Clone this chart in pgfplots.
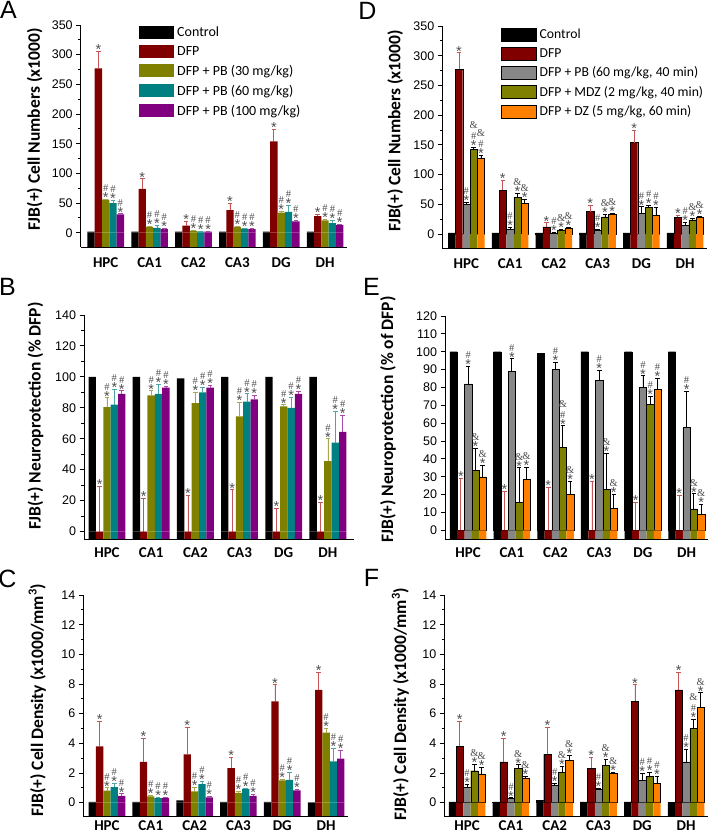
\documentclass[border=0pt]{standalone}
\usepackage{fontspec}
\setmainfont{Carlito}
\newfontfamily\arialf{Liberation Sans}
\newfontfamily\serf{Liberation Serif}
\usepackage{pgfplots}
\pgfplotsset{compat=1.18}
\definecolor{cdfp}{RGB}{128,0,0}
\definecolor{cdfpe}{RGB}{200,85,85}
\definecolor{col}{RGB}{128,128,0}
\definecolor{ctl}{RGB}{0,128,128}
\definecolor{cpu}{RGB}{128,0,128}
\definecolor{cgr}{RGB}{135,135,135}
\definecolor{cor}{RGB}{255,128,0}
\definecolor{ann}{RGB}{80,80,80}
\newcommand\tickf{\arialf\fontsize{12.5}{14}\selectfont}
\newcommand\catf{\bfseries\fontsize{15}{18}\selectfont}
\newcommand\labf{\bfseries\fontsize{17.5}{20}\selectfont}
\newcommand\legf{\fontsize{14}{16}\selectfont}
\newcommand\annf{\fontsize{10}{11}\selectfont\color{ann}}
\protected\def\st{{\arialf\fontsize{14.5}{11}\selectfont\color{ann}*}}
\protected\def\hs{{\serf\fontsize{10.5}{11}\selectfont\color{ann}\#}}
\protected\def\am{{\serf\fontsize{10.5}{11}\selectfont\color{ann}\&}}
\protected\def\sS{\st}
\protected\def\hS{\hs\\\st}
\protected\def\aS{\am\\\st}
\protected\def\ahS{\am\\\hs\\\st}
\pgfplotsset{
 panel/.style={scale only axis, enlargelimits=false, clip=false, axis on top,
   axis x line*=bottom, axis y line*=left, axis line style={-, line width=0.9pt},
   xmin=-0.55, xmax=5.5, xtick={0,...,5}, xticklabels={HPC,CA1,CA2,CA3,DG,DH},
   xtick style={draw=none}, x tick label style={font=\catf},
   ytick style={line width=0.9pt, black}, tick align=outside,
   major tick length=4.5pt, minor tick length=2.7pt,
   y tick label style={font=\tickf}, /pgf/number format/assume math mode=true,
   ylabel style={font=\labf, anchor=center},
   bar width=0.167, ybar=0pt,
   legend image code/.code={\path[##1] (0pt,-6.5pt) rectangle (35pt,6.5pt);},
 },
 bar/.style n args={3}{fill=#1, draw=#2, line width=0.4pt,
   /pgfplots/error bars/y dir=plus, /pgfplots/error bars/y explicit,
   /pgfplots/error bars/error bar style={color=#3, line width=0.8pt},
   /pgfplots/error bars/error mark options={rotate=90, mark size=2.3pt, color=#3, line width=0.8pt}},
 stub/.style={fill=#1, draw=none, forget plot},
 lbl/.style={nodes near coords, point meta=explicit symbolic,
   visualization depends on={\thisrow{e}\as\myerr},
   every node near coord/.append style={shift={(axis direction cs:0,\myerr)}, anchor=south, yshift=-3.5pt,
     font=\annf, align=center, text=ann, inner sep=0pt}},
 s1/.style={bar shift=-0.334}, s2/.style={bar shift=-0.167}, s3/.style={bar shift=0},
 s4/.style={bar shift=0.167}, s5/.style={bar shift=0.334},
}
\begin{document}
\begin{tikzpicture}
\path[use as bounding box] (0,0) rectangle (709pt,834pt);
\node[font=\arialf\fontsize{25}{25}\selectfont] at (8.5pt,824pt) {A};
\node[font=\arialf\fontsize{25}{25}\selectfont] at (367.5pt,823pt) {D};
\node[font=\arialf\fontsize{25}{25}\selectfont] at (7.5pt,547pt) {B};
\node[font=\arialf\fontsize{25}{25}\selectfont] at (371.5pt,547pt) {E};
\node[font=\arialf\fontsize{25}{25}\selectfont] at (7.5pt,255pt) {C};
\node[font=\arialf\fontsize{25}{25}\selectfont] at (371.5pt,256.5pt) {F};
% ---------------- A ----------------
\begin{axis}[panel, at={(80.7pt,587pt)}, anchor=south west, width=266.3pt, height=222pt,
  xmin=-0.57, xmax=5.5, ymin=-24, ymax=350, ytick={0,50,...,350}, minor y tick num=1,
  x tick label style={yshift=-3pt},
  ylabel={FJB(+) Cell Numbers (x1000)}, ylabel style={at={(axis description cs:-0.173,0.53)}},
  legend style={at={(axis description cs:0.217,1.0)}, anchor=north west, draw=none, fill=none,
    font=\legf, inner sep=0pt, row sep=5.3pt, column sep=2pt, cells={anchor=west}, nodes={inner sep=1.5pt}}]
\addplot[bar={black}{none}{black}, s1] table[x=x,y=y,row sep=\\]{x y\\ 0 2\\ 1 2\\ 2 2\\ 3 2\\ 4 2\\ 5 2\\};
\addlegendentry{Control}
\addplot[bar={cdfp}{none}{cdfpe}, lbl, s2] table[x=x,y=y,y error=e,meta=l,row sep=\\]{x y e l\\
0 277 28 \sS\\ 1 74 17 \sS\\ 2 12 7 \sS\\ 3 38 11 \sS\\ 4 154 20 \sS\\ 5 28 3 \sS\\};
\addlegendentry{DFP}
\addplot[bar={col}{none}{col!70!white}, lbl, s3] table[x=x,y=y,y error=e,meta=l,row sep=\\]{x y e l\\
0 56 1 \hS\\ 1 10 1 \hS\\ 2 3 1 \hS\\ 3 10 1 \hS\\ 4 34 2 \hS\\ 5 21 1 \hS\\};
\addlegendentry{DFP + PB (30 mg/kg)}
\addplot[bar={ctl}{none}{ctl!70!white}, lbl, s4] table[x=x,y=y,y error=e,meta=l,row sep=\\]{x y e l\\
0 50 5 \hS\\ 1 8 4 \hS\\ 2 2 1 \hS\\ 3 7 1 \hS\\ 4 35 11 \hS\\ 5 16 5 \hS\\};
\addlegendentry{DFP + PB (60 mg/kg)}
\addplot[bar={cpu}{none}{cpu!70!white}, lbl, s5] table[x=x,y=y,y error=e,meta=l,row sep=\\]{x y e l\\
0 31 1 \hS\\ 1 6 1 \hS\\ 2 2 1 \hS\\ 3 6 1 \hS\\ 4 19 2 \hS\\ 5 13 1 \hS\\};
\addlegendentry{DFP + PB (100 mg/kg)}
\addplot[stub=black, s1] coordinates {(0,-24)(1,-24)(2,-24)(3,-24)(4,-24)(5,-24)};
\addplot[stub=cdfp, s2] coordinates {(0,-24)(1,-24)(2,-24)(3,-24)(4,-24)(5,-24)};
\addplot[stub=col, s3] coordinates {(0,-24)(1,-24)(2,-24)(3,-24)(4,-24)(5,-24)};
\addplot[stub=ctl, s4] coordinates {(0,-24)(1,-24)(2,-24)(3,-24)(4,-24)(5,-24)};
\addplot[stub=cpu, s5] coordinates {(0,-24)(1,-24)(2,-24)(3,-24)(4,-24)(5,-24)};
\end{axis}
% ---------------- B ----------------
\begin{axis}[panel, at={(84pt,294.7pt)}, anchor=south west, width=270pt, height=224.3pt,
  xmin=-0.52, xmax=5.59, ymin=-5, ymax=140, ytick={0,20,...,140}, minor y tick num=1,
  ylabel={FJB(+) Neuroprotection (\% DFP)}, ylabel style={at={(axis description cs:-0.18,0.55)}}]
\addplot[bar={black}{none}{black}, s1] table[x=x,y=y,row sep=\\]{x y\\ 0 100\\ 1 100\\ 2 99\\ 3 100\\ 4 100\\ 5 100\\};
\addplot[bar={cdfp}{none}{cdfpe}, lbl, s2] table[x=x,y=y,y error=e,meta=l,row sep=\\]{x y e l\\
0 0 29 \sS\\ 1 0 21.5 \sS\\ 2 0 23.5 \sS\\ 3 0 27 \sS\\ 4 0 15 \sS\\ 5 0 19 \sS\\};
\addplot[bar={col}{none}{col!70!white}, lbl, s3] table[x=x,y=y,y error=e,meta=l,row sep=\\]{x y e l\\
0 80.5 6 \hS\\ 1 88 3 \hS\\ 2 83 7 \hS\\ 3 74.5 9 \hS\\ 4 81 1 \hS\\ 5 45.5 14.5 \hS\\};
\addplot[bar={ctl}{none}{ctl!70!white}, lbl, s4] table[x=x,y=y,y error=e,meta=l,row sep=\\]{x y e l\\
0 82 10 \hS\\ 1 89 6 \hS\\ 2 90 3.5 \hS\\ 3 84 5 \hS\\ 4 80 7 \hS\\ 5 57.5 20.5 \hS\\};
\addplot[bar={cpu}{none}{cpu!70!white}, lbl, s5] table[x=x,y=y,y error=e,meta=l,row sep=\\]{x y e l\\
0 89 2 \hS\\ 1 93 1 \hS\\ 2 93 1.5 \hS\\ 3 85.5 2.5 \hS\\ 4 89 1.5 \hS\\ 5 64.5 10.5 \hS\\};
\addplot[stub=black, s1] coordinates {(0,-5)(1,-5)(2,-5)(3,-5)(4,-5)(5,-5)};
\addplot[stub=cdfp, s2] coordinates {(0,-5)(1,-5)(2,-5)(3,-5)(4,-5)(5,-5)};
\addplot[stub=col, s3] coordinates {(0,-5)(1,-5)(2,-5)(3,-5)(4,-5)(5,-5)};
\addplot[stub=ctl, s4] coordinates {(0,-5)(1,-5)(2,-5)(3,-5)(4,-5)(5,-5)};
\addplot[stub=cpu, s5] coordinates {(0,-5)(1,-5)(2,-5)(3,-5)(4,-5)(5,-5)};
\end{axis}
% ---------------- C ----------------
\begin{axis}[panel, at={(83.3pt,17.3pt)}, anchor=south west, width=264.7pt, height=221.7pt,
  xmin=-0.54, xmax=5.5, ymin=-0.95, ymax=14, ytick={0,2,...,14}, minor y tick num=1,
  x tick label style={yshift=4pt},
  ylabel={FJB(+) Cell Density (x1000/mm\textsuperscript{3})}, ylabel style={at={(axis description cs:-0.174,0.526)}}]
\addplot[bar={black}{none}{black}, s1] table[x=x,y=y,row sep=\\]{x y\\ 0 0.05\\ 1 0.05\\ 2 0.15\\ 3 0.05\\ 4 0.05\\ 5 0.02\\};
\addplot[bar={cdfp}{none}{cdfpe}, lbl, s2] table[x=x,y=y,y error=e,meta=l,row sep=\\]{x y e l\\
0 3.8 1.7 \sS\\ 1 2.75 1.58 \sS\\ 2 3.25 1.82 \sS\\ 3 2.33 0.72 \sS\\ 4 6.83 1.12 \sS\\ 5 7.6 1.2 \sS\\};
\addplot[bar={col}{none}{col!70!white}, lbl, s3] table[x=x,y=y,y error=e,meta=l,row sep=\\]{x y e l\\
0 0.8 0.2 \hS\\ 1 0.42 0.05 \hS\\ 2 0.75 0.3 \hS\\ 3 0.65 0.1 \hS\\ 4 1.5 0.05 \hS\\ 5 4.72 0.3 \hS\\};
\addplot[bar={ctl}{none}{ctl!70!white}, lbl, s4] table[x=x,y=y,y error=e,meta=l,row sep=\\]{x y e l\\
0 1.05 0.25 \hS\\ 1 0.3 0.05 \hS\\ 2 1.25 0.2 \hS\\ 3 0.92 0.05 \hS\\ 4 1.53 0.5 \hS\\ 5 2.78 0.87 \hS\\};
\addplot[bar={cpu}{none}{cpu!70!white}, lbl, s5] table[x=x,y=y,y error=e,meta=l,row sep=\\]{x y e l\\
0 0.45 0.15 \hS\\ 1 0.32 0.05 \hS\\ 2 0.35 0.05 \hS\\ 3 0.45 0.1 \hS\\ 4 0.82 0.1 \hS\\ 5 2.97 0.55 \hS\\};
\addplot[stub=black, s1] coordinates {(0,-0.95)(1,-0.95)(2,-0.95)(3,-0.95)(4,-0.95)(5,-0.95)};
\addplot[stub=cdfp, s2] coordinates {(0,-0.95)(1,-0.95)(2,-0.95)(3,-0.95)(4,-0.95)(5,-0.95)};
\addplot[stub=col, s3] coordinates {(0,-0.95)(1,-0.95)(2,-0.95)(3,-0.95)(4,-0.95)(5,-0.95)};
\addplot[stub=ctl, s4] coordinates {(0,-0.95)(1,-0.95)(2,-0.95)(3,-0.95)(4,-0.95)(5,-0.95)};
\addplot[stub=cpu, s5] coordinates {(0,-0.95)(1,-0.95)(2,-0.95)(3,-0.95)(4,-0.95)(5,-0.95)};
\end{axis}
% ---------------- D ----------------
\begin{axis}[panel, at={(442.3pt,585.6pt)}, anchor=south west, width=264.7pt, height=222.4pt,
  xmin=-0.55, xmax=5.5, ymin=-24, ymax=350, ytick={0,50,...,350}, minor y tick num=1,
  x tick label style={yshift=-2pt},
  ylabel={FJB(+) Cell Numbers (x1000)}, ylabel style={at={(axis description cs:-0.178,0.528)}},
  legend style={at={(axis description cs:0.22,0.992)}, anchor=north west, draw=none, fill=none,
    font=\fontsize{13.7}{16}\selectfont, inner sep=0pt, row sep=5pt, column sep=2pt, cells={anchor=west}, nodes={inner sep=1.5pt}}]
\addplot[bar={black}{black}{black}, s1] table[x=x,y=y,row sep=\\]{x y\\ 0 2\\ 1 2\\ 2 2\\ 3 2\\ 4 2\\ 5 2\\};
\addlegendentry{Control}
\addplot[bar={cdfp}{black}{cdfpe}, lbl, s2] table[x=x,y=y,y error=e,meta=l,row sep=\\]{x y e l\\
0 277 28 \sS\\ 1 74 17 \sS\\ 2 12 7 \sS\\ 3 38 11 \sS\\ 4 154 20 \sS\\ 5 28 3 \sS\\};
\addlegendentry{DFP}
\addplot[bar={cgr}{black}{black}, lbl, s3] table[x=x,y=y,y error=e,meta=l,row sep=\\]{x y e l\\
0 50 4 \hS\\ 1 8 4 \hS\\ 2 2 1 \hS\\ 3 6 2 \hS\\ 4 35 11 \hS\\ 5 15 5 \hS\\};
\addlegendentry{DFP + PB (60 mg/kg, 40 min)}
\addplot[bar={col}{black}{black}, lbl, s4] table[x=x,y=y,y error=e,meta=l,row sep=\\]{x y e l\\
0 142 4 \ahS\\ 1 62 7 \aS\\ 2 7 1 \aS\\ 3 29 4 \aS\\ 4 45 3 \hS\\ 5 24 3 \aS\\};
\addlegendentry{DFP + MDZ (2 mg/kg, 40 min)}
\addplot[bar={cor}{black}{black}, lbl, s5] table[x=x,y=y,y error=e,meta=l,row sep=\\]{x y e l\\
0 128 4 \ahS\\ 1 52 6 \aS\\ 2 10 1 \aS\\ 3 33 2 \aS\\ 4 32 13 \hS\\ 5 28 2 \aS\\};
\addlegendentry{DFP + DZ (5 mg/kg, 60 min)}
\addplot[stub=black, s1] coordinates {(0,-24)(1,-24)(2,-24)(3,-24)(4,-24)(5,-24)};
\addplot[stub=cdfp, s2] coordinates {(0,-24)(1,-24)(2,-24)(3,-24)(4,-24)(5,-24)};
\addplot[stub=cgr, s3] coordinates {(0,-24)(1,-24)(2,-24)(3,-24)(4,-24)(5,-24)};
\addplot[stub=col, s4] coordinates {(0,-24)(1,-24)(2,-24)(3,-24)(4,-24)(5,-24)};
\addplot[stub=cor, s5] coordinates {(0,-24)(1,-24)(2,-24)(3,-24)(4,-24)(5,-24)};
\end{axis}
% ---------------- E ----------------
\begin{axis}[panel, at={(445pt,294.7pt)}, anchor=south west, width=263pt, height=223.3pt,
  xmin=-0.53, xmax=5.49, ymin=-5, ymax=120, ytick={0,10,...,120},
  ylabel={FJB(+) Neuroprotection (\% of DFP)}, ylabel style={at={(axis description cs:-0.217,0.536)}}]
\addplot[bar={black}{black}{black}, s1] table[x=x,y=y,row sep=\\]{x y\\ 0 100\\ 1 100\\ 2 99\\ 3 100\\ 4 100\\ 5 100\\};
\addplot[bar={cdfp}{black}{cdfpe}, lbl, s2] table[x=x,y=y,y error=e,meta=l,row sep=\\]{x y e l\\
0 0 29 \sS\\ 1 0 22 \sS\\ 2 0 24 \sS\\ 3 0 27.5 \sS\\ 4 0 15.5 \sS\\ 5 0 19.5 \sS\\};
\addplot[bar={cgr}{black}{black}, lbl, s3] table[x=x,y=y,y error=e,meta=l,row sep=\\]{x y e l\\
0 82 10 \hS\\ 1 89 7 \hS\\ 2 90 4 \hS\\ 3 84 5.5 \hS\\ 4 80 6.5 \hS\\ 5 57.5 20.5 \hS\\};
\addplot[bar={col}{black}{black}, lbl, s4] table[x=x,y=y,y error=e,meta=l,row sep=\\]{x y e l\\
0 33.5 12.5 \aS\\ 1 15.5 19.5 \aS\\ 2 46.5 12 \ahS\\ 3 23 20 \aS\\ 4 70.5 4.5 \hS\\ 5 12 8.5 \aS\\};
\addplot[bar={cor}{black}{black}, lbl, s5] table[x=x,y=y,y error=e,meta=l,row sep=\\]{x y e l\\
0 30 6.5 \aS\\ 1 28.5 7 \aS\\ 2 20 7.5 \aS\\ 3 12.5 7.5 \aS\\ 4 79 6 \hS\\ 5 9 5.5 \aS\\};
\addplot[stub=black, s1] coordinates {(0,-5)(1,-5)(2,-5)(3,-5)(4,-5)(5,-5)};
\addplot[stub=cdfp, s2] coordinates {(0,-5)(1,-5)(2,-5)(3,-5)(4,-5)(5,-5)};
\addplot[stub=cgr, s3] coordinates {(0,-5)(1,-5)(2,-5)(3,-5)(4,-5)(5,-5)};
\addplot[stub=col, s4] coordinates {(0,-5)(1,-5)(2,-5)(3,-5)(4,-5)(5,-5)};
\addplot[stub=cor, s5] coordinates {(0,-5)(1,-5)(2,-5)(3,-5)(4,-5)(5,-5)};
\end{axis}
% ---------------- F ----------------
\begin{axis}[panel, at={(444.3pt,17.3pt)}, anchor=south west, width=263.7pt, height=221.7pt,
  xmin=-0.52, xmax=5.5, ymin=-0.95, ymax=14, ytick={0,2,...,14}, minor y tick num=1,
  x tick label style={yshift=4pt},
  ylabel={FJB(+) Cell Density (x1000/mm\textsuperscript{3})}, ylabel style={at={(axis description cs:-0.167,0.508)}}]
\addplot[bar={black}{black}{black}, s1] table[x=x,y=y,row sep=\\]{x y\\ 0 0.05\\ 1 0.05\\ 2 0.15\\ 3 0.05\\ 4 0.05\\ 5 0.02\\};
\addplot[bar={cdfp}{black}{cdfpe}, lbl, s2] table[x=x,y=y,y error=e,meta=l,row sep=\\]{x y e l\\
0 3.8 1.7 \sS\\ 1 2.75 1.58 \sS\\ 2 3.25 1.82 \sS\\ 3 2.33 0.72 \sS\\ 4 6.83 1.12 \sS\\ 5 7.6 1.2 \sS\\};
\addplot[bar={cgr}{black}{black}, lbl, s3] table[x=x,y=y,y error=e,meta=l,row sep=\\]{x y e l\\
0 1.03 0.2 \hS\\ 1 0.27 0.05 \hS\\ 2 1.2 0.1 \hS\\ 3 0.88 0.08 \hS\\ 4 1.5 0.5 \hS\\ 5 2.75 0.85 \hS\\};
\addplot[bar={col}{black}{black}, lbl, s4] table[x=x,y=y,y error=e,meta=l,row sep=\\]{x y e l\\
0 2.15 0.43 \aS\\ 1 2.3 0.25 \aS\\ 2 2.05 0.4 \aS\\ 3 2.5 0.4 \aS\\ 4 1.75 0.3 \hS\\ 5 5.0 0.6 \ahS\\};
\addplot[bar={cor}{black}{black}, lbl, s5] table[x=x,y=y,y error=e,meta=l,row sep=\\]{x y e l\\
0 1.93 0.45 \aS\\ 1 1.67 0.1 \aS\\ 2 2.83 0.37 \aS\\ 3 1.95 0.1 \aS\\ 4 1.3 0.45 \hS\\ 5 6.42 0.98 \aS\\};
\addplot[stub=black, s1] coordinates {(0,-0.95)(1,-0.95)(2,-0.95)(3,-0.95)(4,-0.95)(5,-0.95)};
\addplot[stub=cdfp, s2] coordinates {(0,-0.95)(1,-0.95)(2,-0.95)(3,-0.95)(4,-0.95)(5,-0.95)};
\addplot[stub=cgr, s3] coordinates {(0,-0.95)(1,-0.95)(2,-0.95)(3,-0.95)(4,-0.95)(5,-0.95)};
\addplot[stub=col, s4] coordinates {(0,-0.95)(1,-0.95)(2,-0.95)(3,-0.95)(4,-0.95)(5,-0.95)};
\addplot[stub=cor, s5] coordinates {(0,-0.95)(1,-0.95)(2,-0.95)(3,-0.95)(4,-0.95)(5,-0.95)};
\end{axis}
\end{tikzpicture}
\end{document}
